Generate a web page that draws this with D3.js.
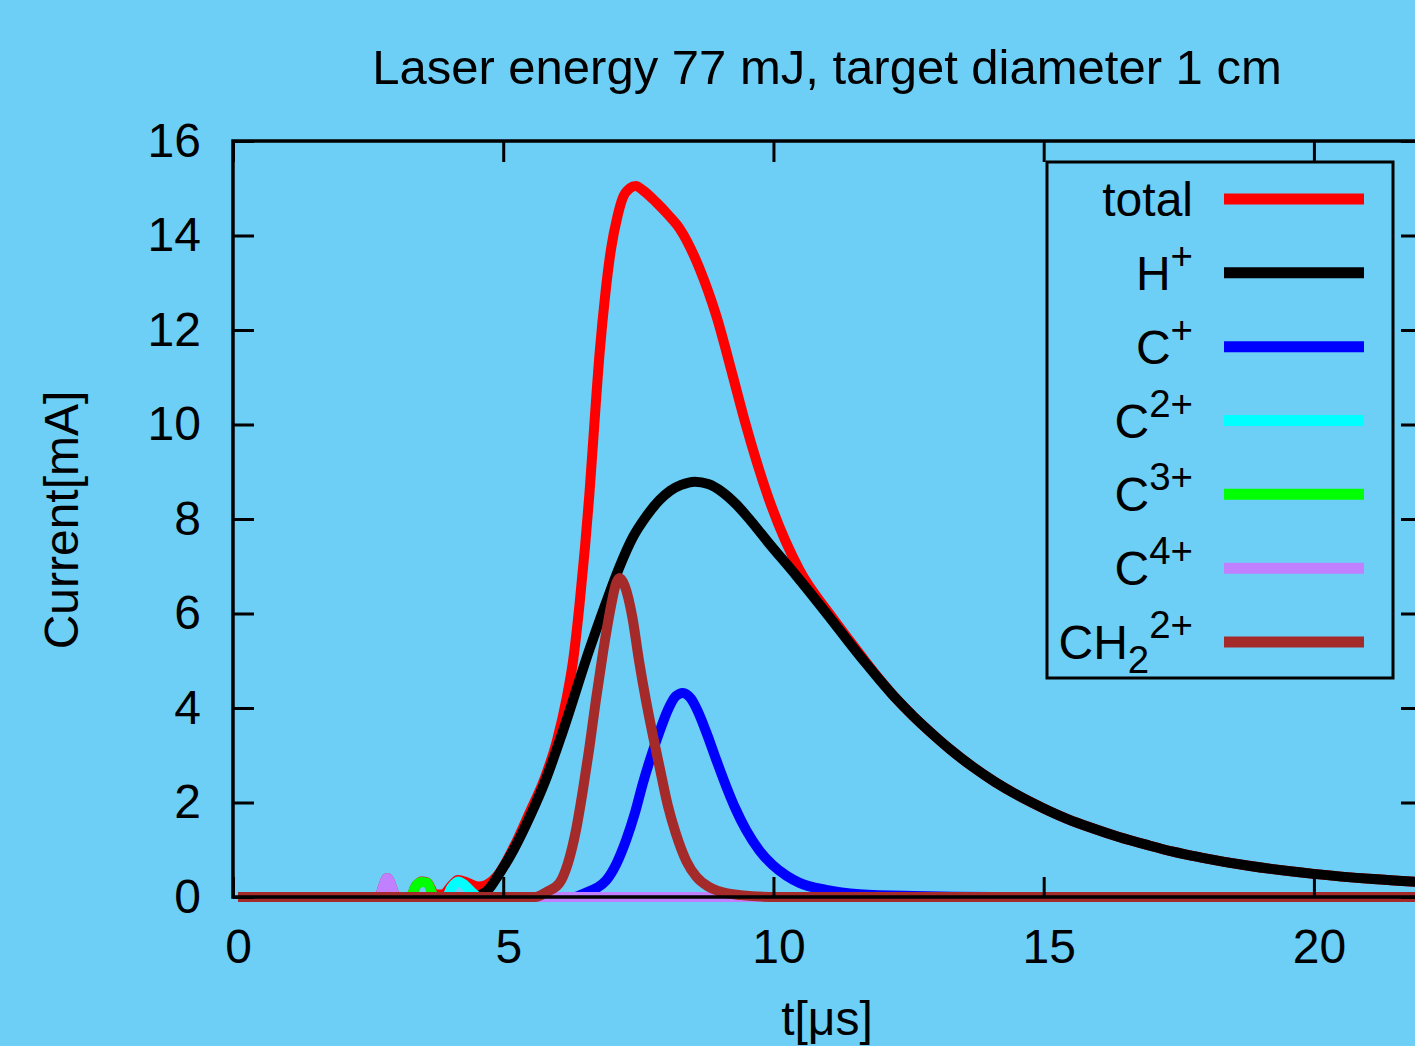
<!DOCTYPE html>
<html>
<head>
<meta charset="utf-8">
<script src="https://cdn.jsdelivr.net/npm/d3@7"></script>
<style>
  html, body { margin: 0; padding: 0; background: #6dcff6; }
  svg { display: block; }
  text { font-family: "Liberation Sans", Arial, sans-serif; fill: #000; }
</style>
</head>
<body>
<svg id="chart"></svg>
<script>
// values: [t in µs, current in mA]
const totalPts = [[0,0],[2.6,0],[2.76,0.4],[2.94,0],[3.18,0],[3.3,0.25],[3.4,0.33],[3.5,0.31],[3.64,0.05],[3.8,0.06],
  [3.95,0.24],[4.07,0.36],[4.25,0.3],[4.45,0.22],[4.6,0.26],[4.8,0.45],[5.1,1.05],[5.4,1.8],[5.67,2.5],[5.9,3.3],
  [6.08,4.2],[6.2,5.0],[6.32,6.2],[6.42,7.4],[6.5,8.5],[6.56,9.46],[6.69,11.5],[6.8,12.8],[6.9,13.7],[7.02,14.4],
  [7.12,14.8],[7.25,15.0],[7.36,15.05],[7.5,14.95],[7.74,14.7],[7.95,14.45],[8.17,14.15],[8.54,13.3],
  [8.85,12.3],[9.15,11.05],[9.37,10.1],[9.83,8.4],[10.39,6.92],[10.94,6.0],[11.3,5.45],[11.6,5.0],[11.87,4.61],
  [12.2,4.17],[12.5,3.82],[12.8,3.5],[13.16,3.14],[13.6,2.75],[14.0,2.44],[14.45,2.14],[14.9,1.88],[15.35,1.65],
  [15.8,1.46],[16.3,1.27],[16.86,1.09],[17.3,0.96],[17.8,0.84],[18.7,0.66],[19.9,0.49],[21.0,0.38],[22,0.31]];

const hPlusPts = [[0,0],[4.35,0],[4.5,0.05],[4.65,0.18],[4.8,0.43],[5.1,1.0],[5.4,1.7],[5.7,2.5],[6.0,3.47],
  [6.5,5.23],[6.8,6.2],[7.06,6.99],[7.3,7.6],[7.55,8.05],[7.8,8.4],[8.0,8.6],[8.2,8.72],[8.45,8.79],[8.7,8.74],
  [8.95,8.58],[9.2,8.33],[9.4,8.08],[9.85,7.45],[10.33,6.8],[10.94,5.93],[11.3,5.4],[11.6,4.97],[11.87,4.6],
  [12.2,4.17],[12.5,3.82],[12.8,3.5],[13.16,3.14],[13.6,2.75],[14.0,2.44],[14.45,2.14],[14.9,1.88],[15.35,1.65],
  [15.8,1.46],[16.3,1.27],[16.86,1.09],[17.3,0.96],[17.8,0.84],[18.7,0.66],[19.9,0.49],[21.0,0.38],[22,0.31]];

const cPlusPts = [[0,0],[6.2,0],[6.45,0.1],[6.65,0.2],[6.81,0.35],[7.0,0.7],[7.18,1.2],[7.35,1.8],[7.49,2.4],
  [7.65,3.0],[7.8,3.5],[7.95,3.95],[8.1,4.25],[8.23,4.32],[8.38,4.2],[8.5,3.95],[8.66,3.5],[8.85,2.9],[9.03,2.35],
  [9.2,1.88],[9.4,1.42],[9.65,0.98],[9.89,0.68],[10.15,0.45],[10.39,0.3],[10.88,0.15],[11.5,0.06],[12.5,0.02],
  [14,0],[22,0]];

const c2Pts = [[0,0],[3.85,0],[3.95,0.2],[4.07,0.33],[4.2,0.25],[4.35,0.08],[4.45,0],[22,0]];
const c3Pts = [[0,0],[3.18,0],[3.3,0.25],[3.4,0.32],[3.5,0.3],[3.64,0],[22,0]];
const c4Pts = [[0,0],[2.6,0],[2.76,0.4],[2.94,0],[22,0]];

const ch2Pts = [[0,0],[5.5,0],[5.7,0.1],[5.95,0.3],[6.1,0.7],[6.26,1.45],[6.38,2.25],[6.5,3.15],[6.62,4.15],
  [6.75,5.15],[6.9,6.15],[7.0,6.65],[7.06,6.75],[7.15,6.6],[7.3,5.9],[7.42,5.0],[7.55,4.15],[7.68,3.4],[7.8,2.75],
  [7.95,1.95],[8.1,1.35],[8.3,0.75],[8.48,0.43],[8.7,0.22],[8.9,0.12],[9.3,0.04],[10,0],[22,0]];

const seriesData = [totalPts, hPlusPts, cPlusPts, c2Pts, c3Pts, c4Pts, ch2Pts];
const seriesColors = ["#ff0000", "#000000", "#0000ff", "#00ffff", "#00ff00", "#c080ff", "#a52a2a"];
// legend labels: [main, subscript, superscript]
const seriesLabels = [["total", "", ""], ["H", "", "+"], ["C", "", "+"], ["C", "", "2+"],
  ["C", "", "3+"], ["C", "", "4+"], ["CH", "2", "2+"]];

const xTicks = [0, 5, 10, 15, 20];
const yTicks = [0, 2, 4, 6, 8, 10, 12, 14, 16];

const titleText = "Laser energy 77 mJ, target diameter 1 cm";
const xLabel = "t[\u03bcs]";
const yLabel = "Current[mA]";

const width = 1415, height = 1046;
const fs = 48;

const svg = d3.select("#chart")
  .attr("width", width)
  .attr("height", height);

svg.append("rect").attr("width", width).attr("height", height).attr("fill", "#6dcff6");

// frame scale and (slightly offset) data scale, like the original plot
const x = d3.scaleLinear().domain([0, 22]).range([233, 1422]);
const xd = d3.scaleLinear().domain([0, 22]).range([238, 1427]);
const y = d3.scaleLinear().domain([0, 16]).range([897, 141]);

// curves
const line = d3.line()
  .x(d => xd(d[0]))
  .y(d => y(d[1]))
  .curve(d3.curveMonotoneX);

svg.append("g")
  .selectAll("path")
  .data(seriesData)
  .enter().append("path")
  .attr("d", d => line(d))
  .attr("fill", "none")
  .attr("stroke", (d, i) => seriesColors[i])
  .attr("stroke-width", 10)
  .attr("stroke-linejoin", "round");

// frame + inward ticks
function styleTicks(g) {
  g.select(".domain").remove();
  g.selectAll(".tick line").attr("stroke", "#000").attr("stroke-width", 3);
}

svg.append("g").attr("transform", "translate(0,141)")
  .call(d3.axisTop(x).tickValues(xTicks).tickSize(-21).tickFormat(""))
  .call(styleTicks);
svg.append("g").attr("transform", "translate(0,897)")
  .call(d3.axisBottom(x).tickValues(xTicks).tickSize(-20).tickFormat(""))
  .call(styleTicks);
svg.append("g").attr("transform", "translate(1422,0)")
  .call(d3.axisRight(y).tickValues(yTicks).tickSize(-21).tickFormat(""))
  .call(styleTicks);

const yAxis = svg.append("g").attr("transform", "translate(233,0)")
  .call(d3.axisLeft(y).tickValues(yTicks).tickSize(-21).tickPadding(32))
  .call(styleTicks);

const xAxis = svg.append("g").attr("transform", "translate(0,897)")
  .call(d3.axisBottom(xd).tickValues(xTicks).tickSize(0).tickPadding(32).tickFormat(d3.format("d")))
  .call(g => g.select(".domain").remove());

[xAxis, yAxis].forEach(g => g.attr("font-size", fs)
  .attr("font-family", "'Liberation Sans', Arial, sans-serif"));

svg.append("rect")
  .attr("x", 233).attr("y", 141)
  .attr("width", 1422 - 233).attr("height", 897 - 141)
  .attr("fill", "none").attr("stroke", "#000").attr("stroke-width", 3.5);

// title and axis labels
svg.append("text")
  .attr("x", 827).attr("y", 84)
  .attr("text-anchor", "middle")
  .attr("font-size", 49)
  .text(titleText);

svg.append("text")
  .attr("x", 827).attr("y", 1035)
  .attr("text-anchor", "middle")
  .attr("font-size", fs)
  .text(xLabel);

svg.append("text")
  .attr("transform", "translate(78,520) rotate(-90)")
  .attr("text-anchor", "middle")
  .attr("font-size", fs)
  .text(yLabel);

// legend
const legend = svg.append("g");
legend.append("rect")
  .attr("x", 1047).attr("y", 162)
  .attr("width", 1393 - 1047).attr("height", 678 - 162)
  .attr("fill", "none").attr("stroke", "#000").attr("stroke-width", 3);

const rowY = d3.scalePoint().domain(d3.range(seriesLabels.length)).range([199, 642]);

const rows = legend.selectAll(".row")
  .data(seriesLabels)
  .enter().append("g")
  .attr("class", "row")
  .attr("transform", (d, i) => `translate(0,${rowY(i)})`);

rows.append("line")
  .attr("x1", 1224).attr("x2", 1364)
  .attr("stroke", (d, i) => seriesColors[i])
  .attr("stroke-width", 11);

rows.each(function(d) {
  const t = d3.select(this).append("text")
    .attr("x", 1193).attr("y", 17)
    .attr("text-anchor", "end")
    .attr("font-size", fs);
  t.append("tspan").text(d[0]);
  let shift = 0;
  if (d[1]) {
    t.append("tspan").attr("dy", 14).attr("font-size", fs * 0.8).text(d[1]);
    shift = 14;
  }
  if (d[2]) {
    t.append("tspan").attr("dy", -21 - shift).attr("font-size", fs * 0.8).text(d[2]);
  }
});
</script>
</body>
</html>
